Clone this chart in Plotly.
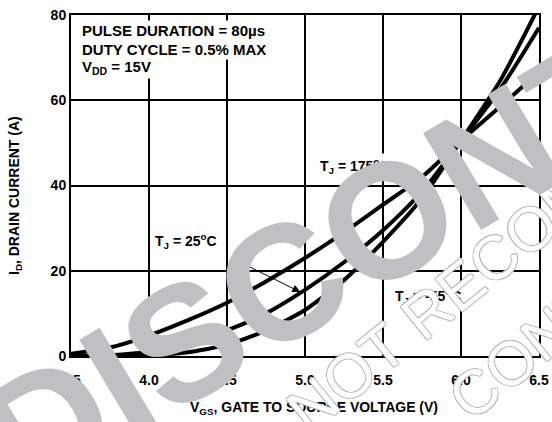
import plotly.graph_objects as go

# ---- data ----
vgs = [3.5, 3.75, 4.0, 4.25, 4.5, 4.75, 5.0, 5.25, 5.5, 5.75, 6.0, 6.25, 6.5]
id_175c = [0.5, 2.0, 4.8, 8.4, 12.5, 17.5, 23.0, 29.0, 35.5, 42.0, 50.5, 58.5, 66.6]
id_25c = [0.0, 0.2, 1.0, 3.0, 6.0, 10.0, 15.5, 22.0, 29.5, 38.5, 50.5, 62.5, 77.0]
id_m55c = [0.0, 0.0, 0.2, 0.9, 2.6, 6.0, 10.8, 17.8, 26.8, 37.0, 50.5, 64.5, 82.0]

x_ticks = [3.5, 4.0, 4.5, 5.0, 5.5, 6.0, 6.5]
x_ticktext = ["3.5", "4.0", "4.5", "5.0", "5.5", "6.0", "6.5"]
y_ticks = [0, 20, 40, 60, 80]
y_ticktext = ["0", "20", "40", "60", "80"]

FONT = "Liberation Sans, Arial, sans-serif"
WM = "#bfc0c2"
OUT = "#aeafb1"

fig = go.Figure()
for ys in (id_175c, id_25c, id_m55c):
    fig.add_trace(go.Scatter(x=vgs, y=ys, mode="lines",
                             line=dict(color="black", width=4, shape="spline", smoothing=0.6),
                             showlegend=False, hoverinfo="skip"))

L, T, W, H = 71, 15, 468, 341
def px(xp):
    return (xp - L) / W
def py(yp):
    return (T + H - yp) / H

ann = []
cond = ["PULSE DURATION = 80\u00b5s", "DUTY CYCLE = 0.5% MAX", "V<sub>DD</sub> = 15V"]
for i, t in enumerate(cond):
    ann.append(dict(x=px(80), y=py(31 + 18 * i), xref="paper", yref="paper", text=t,
                    showarrow=False, xanchor="left", yanchor="middle",
                    font=dict(family=FONT, size=15, color="black", weight="bold"),
                    bgcolor="white", borderpad=1))

def tj(x, y, t):
    return dict(x=x, y=y, xref="x", yref="y", text=t, showarrow=False,
                xanchor="center", yanchor="middle",
                font=dict(family=FONT, size=14, color="black", weight="bold"),
                bgcolor="white", borderpad=2)

ann.append(tj(4.24, 27.0, "T<sub>J</sub> = 25<sup>o</sup>C"))
ann.append(tj(5.32, 44.5, "T<sub>J</sub> = 175<sup>o</sup>C"))
ann.append(tj(5.79, 14.1, "T<sub>J</sub> = -55<sup>o</sup>C"))
ann.append(dict(x=4.97, y=15.0, ax=4.58, ay=22.1, xref="x", yref="y", axref="x", ayref="y",
                text="", showarrow=True, arrowhead=2, arrowsize=1.6, arrowwidth=1, arrowcolor="black"))

ann.append(dict(x=px(314), y=py(408), xref="paper", yref="paper",
                xanchor="center", yanchor="middle",
                text="V<sub>GS</sub>, GATE TO SOURCE VOLTAGE (V)", showarrow=False,
                font=dict(family=FONT, size=14, color="black", weight="bold")))
ann.append(dict(x=px(15), y=py(196), xref="paper", yref="paper",
                xanchor="center", yanchor="middle",
                text="I<sub>D</sub>, DRAIN CURRENT (A)", showarrow=False, textangle=-90,
                font=dict(family=FONT, size=14, color="black", weight="bold")))

# watermark
shadow = f"1px 0 0 {OUT}, -1px 0 0 {OUT}, 0 1px 0 {OUT}, 0 -1px 0 {OUT}"
ann.append(dict(x=px(547), y=py(216), xref="paper", yref="paper", text="NOT RECOMMENDED",
                showarrow=False, textangle=-39, xanchor="center", yanchor="middle",
                font=dict(family=FONT, size=62, color="white", shadow=shadow)))
ann.append(dict(x=px(631), y=py(265), xref="paper", yref="paper", text="CONTACT OUR",
                showarrow=False, textangle=-39, xanchor="center", yanchor="middle",
                font=dict(family=FONT, size=62, color="white", shadow=shadow)))
ann.append(dict(x=px(532), y=py(133), xref="paper", yref="paper", text="DISCONTINUED",
                showarrow=False, textangle=-31, xanchor="center", yanchor="middle",
                font=dict(family=FONT, size=164, color=WM, weight="bold")))

fig.update_layout(
    width=552, height=422,
    margin=dict(l=L, r=552 - L - W, t=T, b=422 - T - H, autoexpand=False),
    paper_bgcolor="white", plot_bgcolor="white",
    annotations=ann,
    xaxis=dict(range=[3.5, 6.5], tickvals=x_ticks, ticktext=x_ticktext, automargin=False,
               showgrid=True, gridcolor="black", gridwidth=2, zeroline=False,
               showline=True, linecolor="black", linewidth=2, mirror=True,
               ticks="", ticklabelstandoff=10,
               tickfont=dict(family=FONT, size=14, color="black", weight="bold")),
    yaxis=dict(range=[0, 80], tickvals=y_ticks, ticktext=y_ticktext, automargin=False,
               showgrid=True, gridcolor="black", gridwidth=2, zeroline=False,
               showline=True, linecolor="black", linewidth=2, mirror=True,
               ticks="", ticklabelstandoff=0,
               tickfont=dict(family=FONT, size=14, color="black", weight="bold")),
)

fig.write_html("out.html", config={"displayModeBar": False},
               post_script="document.body.style.margin='0px';")
